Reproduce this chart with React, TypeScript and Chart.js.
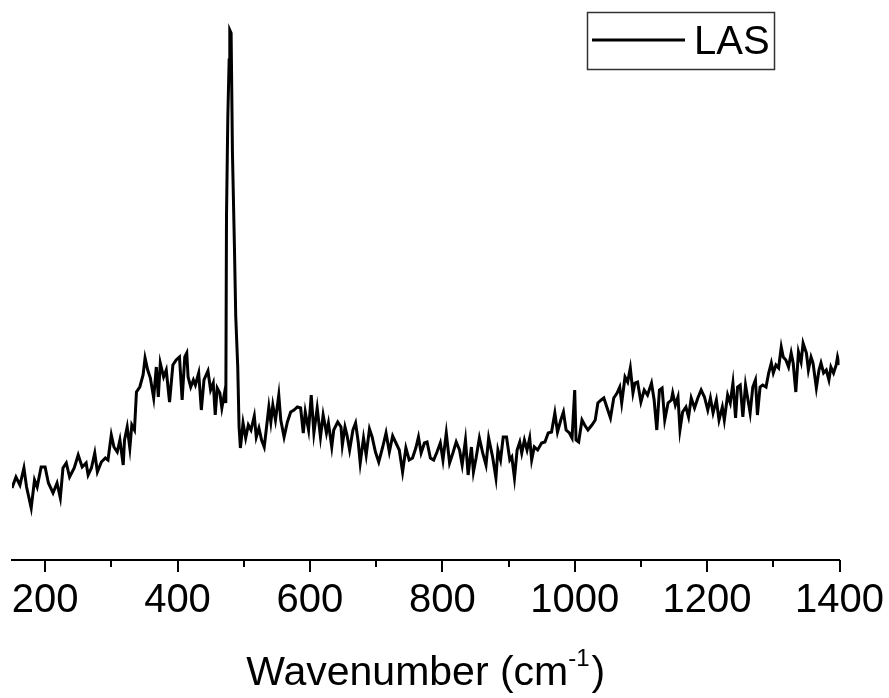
import { useEffect, useRef } from "react";
import { Chart, registerables } from "chart.js";

Chart.register(...registerables);

// Raman shift (cm^-1) and measured intensity (a.u.) of the LAS sample
const wavenumbers = [
  150, 156, 162, 168, 172, 179, 184, 188, 194, 200, 205, 212, 218, 223, 227, 232, 237, 244, 250, 256,
  262, 265, 270, 275, 279, 285, 291, 295, 300, 304, 309, 313, 318, 320, 324, 328, 331, 335, 338, 343,
  348, 351, 355, 359, 364, 368, 371, 374, 379, 383, 388, 393, 398, 403, 407, 411, 414, 416, 420, 424,
  427, 432, 436, 440, 446, 450, 454, 457, 460, 464, 467, 471, 473, 474, 476, 478, 479, 481, 483, 486,
  488, 491, 493, 495, 499, 503, 507, 511, 516, 519, 523, 527, 531, 534, 538, 541, 544, 548, 553, 556,
  561, 566, 571, 576, 581, 586, 590, 593, 598, 602, 606, 611, 616, 620, 625, 628, 633, 636, 642, 647,
  649, 653, 656, 660, 665, 669, 673, 676, 681, 685, 690, 694, 699, 704, 710, 715, 720, 725, 730, 735,
  740, 745, 750, 755, 760, 764, 768, 773, 777, 782, 787, 792, 797, 801, 806, 811, 816, 821, 826, 830,
  835, 839, 844, 847, 851, 856, 861, 866, 870, 876, 881, 884, 888, 892, 897, 902, 905, 909, 913, 917,
  920, 924, 928, 932, 935, 939, 944, 950, 955, 960, 965, 970, 974, 979, 983, 987, 992, 996, 1000, 1002,
  1006, 1011, 1015, 1020, 1026, 1031, 1035, 1040, 1044, 1049, 1054, 1059, 1064, 1068, 1071, 1076, 1080, 1084, 1088, 1091,
  1095, 1100, 1105, 1110, 1116, 1120, 1124, 1128, 1132, 1136, 1141, 1146, 1148, 1152, 1156, 1159, 1163, 1168, 1172, 1176,
  1181, 1186, 1191, 1196, 1201, 1205, 1209, 1214, 1218, 1223, 1226, 1231, 1235, 1239, 1243, 1246, 1250, 1254, 1258, 1261,
  1265, 1269, 1273, 1276, 1280, 1284, 1289, 1293, 1297, 1300, 1304, 1308, 1312, 1315, 1319, 1323, 1327, 1330, 1334, 1338,
  1342, 1345, 1350, 1353, 1357, 1360, 1365, 1369, 1372, 1376, 1380, 1384, 1387, 1391, 1395, 1397, 1400,
];

const intensity = [
  72, 83, 75, 92, 73, 52, 80, 73, 93, 93, 77, 67, 77, 62, 92, 97, 83, 92, 105, 93,
  97, 85, 92, 107, 88, 98, 102, 100, 125, 113, 108, 120, 95, 120, 133, 112, 135, 130, 168, 173,
  185, 202, 190, 182, 162, 193, 163, 197, 183, 190, 158, 195, 200, 203, 160, 203, 207, 183, 173, 180,
  175, 187, 150, 180, 189, 170, 177, 145, 172, 167, 152, 167, 157, 343, 443, 500, 530, 527, 407, 313,
  243, 193, 133, 112, 137, 122, 135, 130, 144, 123, 132, 120, 113, 130, 153, 138, 155, 140, 165, 140,
  123, 138, 148, 150, 153, 152, 127, 148, 130, 165, 127, 152, 123, 145, 127, 137, 113, 130, 138, 133,
  115, 133, 125, 110, 130, 137, 118, 97, 122, 105, 131, 123, 108, 98, 113, 127, 108, 124, 117, 110,
  88, 112, 100, 102, 112, 123, 107, 117, 118, 102, 100, 108, 117, 100, 127, 97, 107, 118, 110, 95,
  120, 85, 113, 88, 102, 122, 107, 95, 122, 103, 82, 110, 100, 123, 123, 100, 103, 82, 110, 118,
  107, 120, 110, 122, 100, 113, 110, 117, 118, 127, 128, 147, 128, 140, 148, 130, 127, 122, 170, 120,
  118, 140, 135, 130, 135, 140, 157, 160, 162, 152, 142, 162, 167, 173, 157, 183, 178, 192, 167, 177,
  178, 158, 170, 165, 177, 160, 130, 170, 172, 140, 157, 160, 167, 155, 163, 130, 148, 153, 143, 162,
  152, 162, 170, 163, 150, 162, 147, 160, 140, 153, 140, 165, 157, 177, 142, 173, 175, 143, 175, 163,
  147, 173, 180, 145, 173, 175, 173, 187, 197, 187, 195, 192, 213, 203, 200, 193, 207, 197, 168, 208,
  198, 217, 207, 190, 203, 197, 172, 190, 197, 187, 190, 180, 193, 187, 195, 203, 195,
];

const seriesLabel = "LAS";
const xMin = 150;
const xMax = 1400;
const yMin = 0;
const yMax = 560;
const majorTicks = [200, 400, 600, 800, 1000, 1200, 1400];
const minorTicks = [300, 500, 700, 900, 1100, 1300];
const axisTitleMain = "Wavenumber (cm";
const axisTitleSup = "-1";
const axisTitleEnd = ")";

const FONT = "'Liberation Sans', Arial, Helvetica, sans-serif";

// Tick marks, axis title and boxed legend drawn on top of the plot
const decorations = {
  id: "decorations",
  afterDraw(chart: any) {
    const { ctx, chartArea, scales } = chart;
    const x = scales.x;
    const axisY = chartArea.bottom;
    ctx.save();

    // tick marks pointing outward, major longer than minor
    ctx.strokeStyle = "#000";
    ctx.lineWidth = 2;
    const drawTick = (v: number, len: number) => {
      const px = Math.round(x.getPixelForValue(v));
      ctx.beginPath();
      ctx.moveTo(px, axisY);
      ctx.lineTo(px, axisY + len);
      ctx.stroke();
    };
    majorTicks.forEach((v) => drawTick(v, 12));
    minorTicks.forEach((v) => drawTick(v, 7));

    // axis title with superscript exponent
    const mainFont = `41px ${FONT}`;
    const supFont = `24px ${FONT}`;
    ctx.fillStyle = "#000";
    ctx.textBaseline = "alphabetic";
    ctx.font = mainFont;
    const wMain = ctx.measureText(axisTitleMain).width;
    const wEnd = ctx.measureText(axisTitleEnd).width;
    ctx.font = supFont;
    const wSup = ctx.measureText(axisTitleSup).width;
    const total = wMain + wSup + 2 + wEnd;
    const cx = (chartArea.left + chartArea.right) / 2;
    let tx = cx - total / 2;
    const baseY = 685;
    ctx.font = mainFont;
    ctx.textAlign = "left";
    ctx.fillText(axisTitleMain, tx, baseY);
    tx += wMain;
    ctx.font = supFont;
    ctx.fillText(axisTitleSup, tx, baseY - 19);
    tx += wSup + 2;
    ctx.font = mainFont;
    ctx.fillText(axisTitleEnd, tx, baseY);

    // legend box
    const bx = 587;
    const by = 12;
    const bw = 187;
    const bh = 57;
    ctx.fillStyle = "#fff";
    ctx.fillRect(bx, by, bw, bh);
    ctx.strokeStyle = "#333";
    ctx.lineWidth = 1.5;
    ctx.strokeRect(bx + 0.5, by + 0.5, bw, bh);
    ctx.strokeStyle = "#000";
    ctx.lineWidth = 3;
    ctx.beginPath();
    ctx.moveTo(592, 40);
    ctx.lineTo(685, 40);
    ctx.stroke();
    ctx.fillStyle = "#000";
    ctx.font = `40px ${FONT}`;
    ctx.textBaseline = "alphabetic";
    ctx.fillText(seriesLabel, 694, 54);

    ctx.restore();
  },
};

export default function App() {
  const canvasRef = useRef<HTMLCanvasElement | null>(null);

  useEffect(() => {
    const canvas = canvasRef.current;
    if (!canvas) return;
    const points = wavenumbers.map((w, i) => ({ x: w, y: intensity[i] }));
    const chart = new Chart(canvas, {
      type: "line",
      data: {
        datasets: [
          {
            label: seriesLabel,
            data: points,
            borderColor: "#000",
            borderWidth: 3,
            borderJoinStyle: "miter",
            pointRadius: 0,
            tension: 0,
            fill: false,
          },
        ],
      },
      options: {
        animation: false,
        responsive: false,
        devicePixelRatio: 1,
        parsing: true,
        layout: { padding: { left: 12, right: 49, top: 0, bottom: 68 } },
        plugins: {
          legend: { display: false },
          tooltip: { enabled: false },
          title: { display: false },
        },
        scales: {
          x: {
            type: "linear",
            min: xMin,
            max: xMax,
            afterBuildTicks: (scale: any) => {
              scale.ticks = majorTicks.map((v) => ({ value: v }));
            },
            afterFit: (scale: any) => {
              scale.height = 70;
            },
            ticks: {
              autoSkip: false,
              maxRotation: 0,
              minRotation: 0,
              padding: 5,
              color: "#000",
              font: { family: FONT, size: 40 },
              callback: (v: any) => String(v),
            },
            grid: {
              display: true,
              drawOnChartArea: false,
              drawTicks: true,
              tickLength: 12,
              tickColor: "rgba(0,0,0,0)",
            },
            border: { display: true, color: "#000", width: 2 },
          },
          y: {
            type: "linear",
            display: false,
            min: yMin,
            max: yMax,
          },
        },
      },
      plugins: [decorations],
    });
    return () => chart.destroy();
  }, []);

  return (
    <div style={{ position: "fixed", left: 0, top: 0, width: 889, height: 698, background: "#fff" }}>
      <canvas ref={canvasRef} width={889} height={698} style={{ width: 889, height: 698, display: "block" }} />
    </div>
  );
}
